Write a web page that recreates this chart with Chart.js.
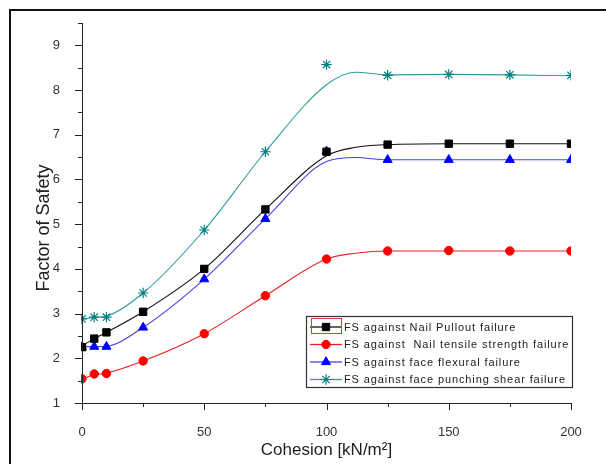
<!DOCTYPE html>
<html>
<head>
<meta charset="utf-8">
<script src="https://cdn.jsdelivr.net/npm/chart.js@4/dist/chart.umd.min.js"></script>
<style>
  html, body { margin: 0; padding: 0; background: #fff; }
  #fsChart { display: block; }
</style>
</head>
<body>
<canvas id="fsChart" width="606" height="464"></canvas>
<script>
// cohesion values where the factor of safety was computed
const cohesion = [0, 5, 10, 25, 50, 75, 100, 125, 150, 175, 200];

// computed factors of safety
const fsPullout = [2.25, 2.44, 2.58, 3.04, 4.00, 5.33, 6.62, 6.78, 6.80, 6.80, 6.80];
const fsTensile = [1.54, 1.65, 1.66, 1.94, 2.55, 3.40, 4.22, 4.40, 4.41, 4.40, 4.40];
const fsFlexural = [2.25, 2.26, 2.26, 2.69, 3.77, 5.12, 6.63, 6.44, 6.44, 6.44, 6.44];
const fsPunching = [2.88, 2.92, 2.92, 3.46, 4.87, 6.62, 8.57, 8.33, 8.35, 8.34, 8.33];

// smoothed fit curves through each series
const fitCohesion = [0, 5, 10, 25, 50, 75, 100, 112, 125, 150, 175, 200];
const fitPullout = [2.28, 2.44, 2.58, 3.04, 4.00, 5.33, 6.53, 6.72, 6.78, 6.80, 6.80, 6.80];
const fitTensile = [1.54, 1.63, 1.67, 1.94, 2.55, 3.40, 4.22, 4.35, 4.40, 4.40, 4.40, 4.40];
const fitFlexural = [2.26, 2.26, 2.27, 2.69, 3.77, 5.12, 6.40, 6.49, 6.44, 6.44, 6.44, 6.44];
const fitPunching = [2.88, 2.91, 2.94, 3.46, 4.87, 6.62, 8.12, 8.40, 8.34, 8.35, 8.34, 8.32];

const seriesNames = [
  'FS against Nail Pullout failure',
  'FS against  Nail tensile strength failure',
  'FS against face flexural failure',
  'FS against face punching shear failure'
];

// axis ticks
const xMajor = [0, 50, 100, 150, 200];
const xMinor = [25, 75, 125, 175];
const yMajor = [1, 2, 3, 4, 5, 6, 7, 8, 9];
const yMinor = [1.5, 2.5, 3.5, 4.5, 5.5, 6.5, 7.5, 8.5, 9.5];

const markerColors = ['#000000', '#ff0000', '#0000ff', '#008080'];
const lineColors = ['#111111', '#e52222', '#4444d8', '#2e9c9c'];
const markerStyles = [
  { pointStyle: 'rect', radius: 5.2, borderWidth: 1 },
  { pointStyle: 'circle', radius: 4.2, borderWidth: 1 },
  { pointStyle: 'triangle', radius: 5.2, borderWidth: 1 },
  { pointStyle: 'star', radius: 5.2, borderWidth: 1.2 }
];

const fitSets = [fitPullout, fitTensile, fitFlexural, fitPunching];
const pointSets = [fsPullout, fsTensile, fsFlexural, fsPunching];

function pairs(xs, ys) {
  return xs.map((x, i) => ({ x: x, y: ys[i] }));
}

const datasets = [];
// fit curves
fitSets.forEach((ys, i) => {
  datasets.push({
    data: pairs(fitCohesion, ys),
    showLine: true,
    borderColor: lineColors[i],
    borderWidth: 1.1,
    pointRadius: 0,
    cubicInterpolationMode: 'monotone',
    fill: false,
    clip: 0,
    order: 2
  });
});
// markers
pointSets.forEach((ys, i) => {
  const m = markerStyles[i];
  datasets.push({
    data: pairs(cohesion, ys),
    showLine: false,
    pointStyle: m.pointStyle,
    pointRadius: m.radius,
    pointBorderWidth: m.borderWidth,
    pointBackgroundColor: markerColors[i],
    pointBorderColor: markerColors[i],
    clip: { left: 1, right: 0, top: 8, bottom: 8 },
    order: 1
  });
});

function drawMarker(ctx, m, x, y) {
  Chart.helpers.drawPoint(ctx, {
    pointStyle: m.pointStyle,
    radius: m.radius,
    borderWidth: m.borderWidth,
    rotation: 0
  }, x, y);
}

// frame, axes with minor ticks, axis titles and the legend box
const decorations = {
  id: 'decorations',
  beforeDraw(chart) {
    const ctx = chart.ctx;
    ctx.save();
    ctx.fillStyle = '#fff';
    ctx.fillRect(0, 0, chart.width, chart.height);
    ctx.restore();
  },
  afterDraw(chart) {
    const ctx = chart.ctx;
    const xs = chart.scales.x;
    const ys = chart.scales.y;
    const area = chart.chartArea;
    ctx.save();

    // outer frame
    ctx.strokeStyle = '#111';
    ctx.lineWidth = 2;
    ctx.strokeRect(10, 10, 760, 700);

    // axis lines
    ctx.strokeStyle = '#222';
    ctx.lineWidth = 1;
    ctx.beginPath();
    ctx.moveTo(area.left + 0.5, area.top);
    ctx.lineTo(area.left + 0.5, area.bottom + 0.5);
    ctx.lineTo(area.right + 0.5, area.bottom + 0.5);
    ctx.stroke();

    // tick marks
    ctx.beginPath();
    xMajor.forEach(v => {
      const px = Math.round(xs.getPixelForValue(v)) + 0.5;
      ctx.moveTo(px, area.bottom); ctx.lineTo(px, area.bottom + 7);
    });
    xMinor.forEach(v => {
      const px = Math.round(xs.getPixelForValue(v)) + 0.5;
      ctx.moveTo(px, area.bottom); ctx.lineTo(px, area.bottom + 4);
    });
    yMajor.forEach(v => {
      const py = Math.round(ys.getPixelForValue(v)) + 0.5;
      ctx.moveTo(area.left, py); ctx.lineTo(area.left - 7, py);
    });
    yMinor.forEach(v => {
      const py = Math.round(ys.getPixelForValue(v)) + 0.5;
      ctx.moveTo(area.left, py); ctx.lineTo(area.left - 4, py);
    });
    ctx.stroke();

    // axis titles
    ctx.fillStyle = '#222';
    ctx.textAlign = 'center';
    ctx.textBaseline = 'middle';
    ctx.font = '17px "Liberation Sans", Arial, sans-serif';
    ctx.fillText('Cohesion [kN/m\u00B2]', (area.left + area.right) / 2, 450);
    ctx.save();
    ctx.translate(44, 228);
    ctx.rotate(-Math.PI / 2);
    ctx.font = '18px "Liberation Sans", Arial, sans-serif';
    ctx.fillText('Factor of Safety', 0, 0);
    ctx.restore();

    // legend
    const box = { left: 306.5, top: 316.5, width: 266, height: 71 };
    ctx.strokeStyle = '#333';
    ctx.lineWidth = 1.2;
    ctx.strokeRect(box.left, box.top, box.width, box.height);
    ctx.font = '11px "Liberation Sans", Arial, sans-serif';
    ctx.textAlign = 'left';
    ctx.letterSpacing = '0.9px';
    seriesNames.forEach((name, i) => {
      const cy = 327 + i * 17.5;
      ctx.strokeStyle = lineColors[i];
      ctx.lineWidth = 1.3;
      ctx.beginPath();
      ctx.moveTo(310, cy);
      ctx.lineTo(342, cy);
      ctx.stroke();
      ctx.fillStyle = markerColors[i];
      ctx.strokeStyle = markerColors[i];
      ctx.lineWidth = markerStyles[i].borderWidth;
      drawMarker(ctx, markerStyles[i], 326, cy);
      ctx.fillStyle = '#222';
      ctx.fillText(name, 344, cy + 0.5);
    });
    // selection box around the first legend sample
    ctx.strokeStyle = '#e03a3a';
    ctx.lineWidth = 1;
    ctx.strokeRect(311.5, 318.5, 30, 15);
    ctx.restore();
  }
};

new Chart(document.getElementById('fsChart'), {
  type: 'scatter',
  data: { datasets: datasets },
  plugins: [decorations],
  options: {
    responsive: false,
    animation: false,
    devicePixelRatio: 1,
    layout: { padding: { left: 0, top: 23, right: 35, bottom: 0 } },
    plugins: {
      legend: { display: false },
      tooltip: { enabled: false }
    },
    scales: {
      x: {
        type: 'linear',
        min: 0,
        max: 200,
        grid: { display: false },
        border: { display: false },
        afterBuildTicks: s => { s.ticks = xMajor.map(v => ({ value: v })); },
        afterFit: s => { s.height = 61; },
        ticks: {
          padding: 14,
          color: '#333',
          font: { family: '"Liberation Sans", Arial, sans-serif', size: 13 }
        }
      },
      y: {
        type: 'linear',
        min: 1,
        max: 9.5,
        grid: { display: false },
        border: { display: false },
        afterBuildTicks: s => { s.ticks = yMajor.map(v => ({ value: v })); },
        afterFit: s => { s.width = 82; },
        ticks: {
          padding: 14,
          color: '#333',
          font: { family: '"Liberation Sans", Arial, sans-serif', size: 13 }
        }
      }
    }
  }
});
</script>
</body>
</html>
